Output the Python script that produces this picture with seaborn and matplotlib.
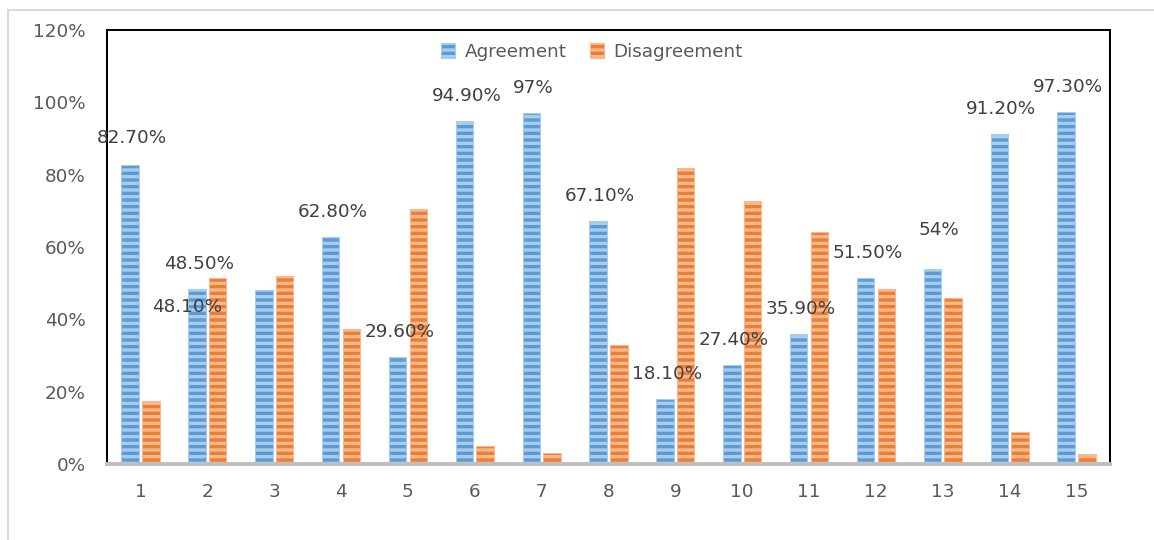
import matplotlib.pyplot as plt
import pandas as pd
import seaborn as sns
from matplotlib.lines import Line2D
from matplotlib.patches import Patch

# values
questions = [str(i) for i in range(1, 16)]
agreement = [82.7, 48.5, 48.1, 62.8, 29.6, 94.9, 97.0, 67.1, 18.1, 27.4, 35.9, 51.5, 54.0, 91.2, 97.3]
disagreement = [17.3, 51.5, 51.9, 37.2, 70.4, 5.1, 3.0, 32.9, 81.9, 72.6, 64.1, 48.5, 46.0, 8.8, 2.7]
agree_labels = ["82.70%", "48.50%", "48.10%", "62.80%", "29.60%", "94.90%", "97%", "67.10%",
                "18.10%", "27.40%", "35.90%", "51.50%", "54%", "91.20%", "97.30%"]
series = ["Agreement", "Disagreement"]
y_ticks = [0, 20, 40, 60, 80, 100, 120]

BLUE, BLUE_LIGHT = "#5B9BD5", "#A9CBEC"
ORANGE, ORANGE_LIGHT = "#ED7D31", "#F6B98F"
TEXT = "#404040"
TICK = "#595959"

df = pd.DataFrame({
    "question": questions * 2,
    "value": agreement + disagreement,
    "response": [series[0]] * len(questions) + [series[1]] * len(questions),
})

sns.set_style("white")
plt.rcParams["hatch.linewidth"] = 3.0
plt.rcParams["font.family"] = ["DejaVu Sans"]

DPI = 80
fig = plt.figure(figsize=(1154 / DPI, 540 / DPI), dpi=DPI)
ax = fig.add_axes([107 / 1154, 1 - 464 / 540, (1110 - 107) / 1154, (464 - 30) / 540])

sns.barplot(data=df, x="question", y="value", hue="response", order=questions,
            hue_order=series, palette=[BLUE, ORANGE], saturation=1, width=0.62,
            gap=0.16, errorbar=None, legend=False, ax=ax)

# striped bars: hatch colour follows the edge colour
for container, light in zip(ax.containers, [BLUE_LIGHT, ORANGE_LIGHT]):
    for bar in container:
        bar.set_hatch("--")
        bar.set_edgecolor(light)
        bar.set_linewidth(1.0)

# data labels for agreement, placed like the original chart
offsets = {2: (-77, -17), 12: (6, 39), 0: (2, 27)}
for i, bar in enumerate(ax.containers[0]):
    dx, dy = offsets.get(i, (2, 25))
    ax.annotate(agree_labels[i], (bar.get_x() + bar.get_width() / 2, bar.get_height()),
                xytext=(dx, dy), textcoords="offset pixels", ha="center", va="center",
                fontsize=16.5, color=TEXT)

ax.set_ylim(0, 120)
ax.set_xlim(-0.5, len(questions) - 0.5)
ax.set_yticks(y_ticks)
ax.set_yticklabels([f"{t}%" for t in y_ticks])
ax.set_xlabel("")
ax.set_ylabel("")
ax.tick_params(axis="y", length=0, pad=19, labelsize=16.5, labelcolor=TICK)
ax.tick_params(axis="x", length=0, pad=17, labelsize=16.5, labelcolor=TICK)

for side in ["left", "top", "right"]:
    ax.spines[side].set_color("black")
    ax.spines[side].set_linewidth(1.8)
ax.spines["bottom"].set_color("#BFBFBF")
ax.spines["bottom"].set_linewidth(3.6)
ax.spines["bottom"].set_zorder(5)

handles = [Patch(facecolor=BLUE, edgecolor=BLUE_LIGHT, hatch="--", linewidth=1.0),
           Patch(facecolor=ORANGE, edgecolor=ORANGE_LIGHT, hatch="--", linewidth=1.0)]
fig.legend(handles, series, loc="center", bbox_to_anchor=(592 / 1154, 1 - 52 / 540),
           ncol=2, frameon=False, fontsize=16.5, labelcolor=TICK, handlelength=0.75,
           handleheight=0.85, handletextpad=0.5, columnspacing=1.3)

# light frame of the original chart area
fig.add_artist(Line2D([8 / 1154, 1], [1 - 10 / 540, 1 - 10 / 540], color="#D9D9D9", lw=1.8))
fig.add_artist(Line2D([8 / 1154, 8 / 1154], [0, 1 - 10 / 540], color="#D9D9D9", lw=1.8))

fig.savefig("out.png", dpi=DPI)
